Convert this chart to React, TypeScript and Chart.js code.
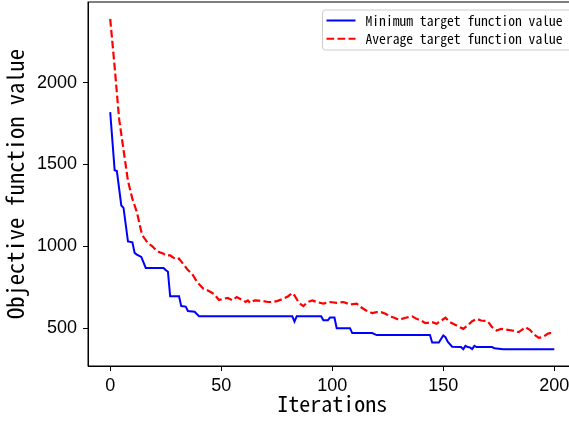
import { useEffect, useRef } from "react";
import { Chart, registerables } from "chart.js";

Chart.register(...registerables);

const minIter = [0, 2, 3, 5, 6, 8, 10, 11, 12, 14, 16, 24, 25, 26, 27, 31, 32, 34, 35, 38, 40, 82, 83, 84, 95, 96, 98, 99, 101, 102, 108, 109, 118, 120, 144, 145, 148, 150, 151, 152, 154, 158, 159, 160, 161, 162, 163, 164, 165, 172, 173, 177, 200];
const minValue = [1820, 1465, 1460, 1250, 1235, 1030, 1025, 960, 950, 935, 868, 868, 855, 845, 695, 695, 635, 632, 605, 600, 573, 573, 540, 573, 573, 548, 548, 565, 565, 500, 500, 470, 470, 458, 458, 413, 413, 455, 445, 418, 387, 385, 372, 392, 385, 383, 373, 392, 385, 385, 377, 371, 371];

const avgIter = [0, 2, 4, 6, 8, 10, 12, 14, 15, 17, 19, 20, 22, 24, 25, 27, 28, 30, 31, 33, 35, 37, 39, 41, 42, 44, 46, 47, 49, 51, 53, 55, 57, 59, 60, 61, 62, 63, 65, 67, 69, 71, 73, 75, 76, 78, 80, 82, 83, 85, 87, 89, 91, 93, 96, 99, 102, 105, 108, 111, 113, 115, 118, 120, 122, 124, 126, 128, 130, 133, 136, 138, 140, 142, 145, 147, 148, 151, 153, 156, 159, 161, 163, 165, 167, 170, 172, 174, 176, 179, 181, 184, 186, 187, 189, 191, 193, 195, 197, 198, 200];
const avgValue = [2390, 2097, 1780, 1590, 1400, 1290, 1210, 1090, 1057, 1020, 1000, 986, 965, 955, 945, 945, 935, 920, 925, 890, 855, 830, 785, 755, 741, 730, 715, 705, 672, 680, 685, 670, 690, 675, 670, 660, 670, 655, 670, 668, 665, 660, 660, 665, 670, 680, 694, 714, 700, 655, 635, 660, 670, 660, 650, 660, 655, 660, 645, 650, 628, 610, 592, 598, 598, 588, 572, 564, 551, 564, 572, 557, 547, 531, 537, 527, 537, 564, 537, 517, 496, 517, 543, 557, 547, 543, 506, 486, 496, 490, 486, 476, 496, 506, 490, 461, 441, 447, 466, 470, 470];

const seriesLabels = ["Minimum target function value", "Average target function value"];
const xTicks = [0, 50, 100, 150, 200];
const yTicks = [500, 1000, 1500, 2000];
const xTitle = "Iterations";
const yTitle = "Objective function value";

const MONO = "'Noto Sans Mono CJK SC', 'DejaVu Sans Mono', monospace";
const SANS = "'Liberation Sans', Arial, sans-serif";

const legendPlugin = {
  id: "boxLegend",
  afterDraw(chart: any) {
    const ctx = chart.ctx;
    const area = chart.chartArea;
    const x0 = area.right - 254;
    const y0 = area.top + 8;
    const w = 270;
    const h = 40;
    ctx.save();
    ctx.beginPath();
    const r = 3;
    ctx.moveTo(x0 + r, y0);
    ctx.lineTo(x0 + w - r, y0);
    ctx.arcTo(x0 + w, y0, x0 + w, y0 + r, r);
    ctx.lineTo(x0 + w, y0 + h - r);
    ctx.arcTo(x0 + w, y0 + h, x0 + w - r, y0 + h, r);
    ctx.lineTo(x0 + r, y0 + h);
    ctx.arcTo(x0, y0 + h, x0, y0 + h - r, r);
    ctx.lineTo(x0, y0 + r);
    ctx.arcTo(x0, y0, x0 + r, y0, r);
    ctx.closePath();
    ctx.fillStyle = "rgba(255,255,255,0.85)";
    ctx.fill();
    ctx.strokeStyle = "#cccccc";
    ctx.lineWidth = 1;
    ctx.stroke();
    chart.data.datasets.forEach((ds: any, i: number) => {
      const y = y0 + 10.5 + i * 18.3;
      ctx.beginPath();
      ctx.strokeStyle = ds.borderColor;
      ctx.lineWidth = 2;
      ctx.setLineDash(ds.borderDash || []);
      ctx.moveTo(x0 + 4, y);
      ctx.lineTo(x0 + 33, y);
      ctx.stroke();
      ctx.setLineDash([]);
      ctx.fillStyle = "#000";
      ctx.font = `13.6px ${MONO}`;
      ctx.textBaseline = "middle";
      ctx.textAlign = "left";
      ctx.fillText(ds.label, x0 + 43, y + 0.5);
    });
    ctx.restore();
  },
};

const framePlugin = {
  id: "frame",
  afterDatasetsDraw(chart: any) {
    const ctx = chart.ctx;
    const a = chart.chartArea;
    ctx.save();
    ctx.strokeStyle = "#000";
    ctx.lineWidth = 1;
    ctx.strokeRect(a.left, a.top, a.right - a.left, a.bottom - a.top);
    ctx.restore();
  },
};

export default function App() {
  const ref = useRef<HTMLCanvasElement | null>(null);

  useEffect(() => {
    if (!ref.current) return;
    const chart = new Chart(ref.current, {
      type: "line",
      data: {
        datasets: [
          {
            label: seriesLabels[0],
            data: minIter.map((x, i) => ({ x, y: minValue[i] })),
            borderColor: "#0000ff",
            borderWidth: 2,
            pointRadius: 0,
            tension: 0,
            fill: false,
          },
          {
            label: seriesLabels[1],
            data: avgIter.map((x, i) => ({ x, y: avgValue[i] })),
            borderColor: "#ff0000",
            borderWidth: 2.2,
            borderDash: [7.7, 3.3],
            pointRadius: 0,
            tension: 0,
            fill: false,
          },
        ],
      },
      options: {
        responsive: false,
        animation: false,
        devicePixelRatio: 1,
        layout: { padding: { top: 2, right: 1.5, left: 0, bottom: 0 } },
        plugins: { legend: { display: false }, tooltip: { enabled: false } },
        scales: {
          x: {
            type: "linear",
            min: -10,
            max: 210,
            afterBuildTicks: (s: any) => {
              s.ticks = xTicks.map((v) => ({ value: v }));
            },
            afterFit: (s: any) => {
              s.height = 55;
              s.paddingLeft = 0;
              s.paddingRight = 0;
            },
            ticks: {
              color: "#000",
              font: { family: SANS, size: 18 },
              padding: 4,
              callback: (v: any) => String(v),
            },
            grid: { drawOnChartArea: false, drawTicks: true, tickLength: 5, color: "#000" },
            border: { display: true, color: "#000", width: 1 },
            title: {
              display: true,
              text: xTitle,
              color: "#000",
              font: { family: MONO, size: 22 },
              padding: { top: 0, bottom: 4 },
            },
          },
          y: {
            type: "linear",
            min: 269,
            max: 2493,
            afterBuildTicks: (s: any) => {
              s.ticks = yTicks.map((v) => ({ value: v }));
            },
            afterFit: (s: any) => {
              s.width = 88;
              s.paddingTop = 0;
              s.paddingBottom = 0;
            },
            ticks: {
              color: "#000",
              font: { family: SANS, size: 18 },
              padding: 6,
              callback: (v: any) => String(v),
            },
            grid: { drawOnChartArea: false, drawTicks: true, tickLength: 5, color: "#000" },
            border: { display: true, color: "#000", width: 1 },
            title: {
              display: true,
              text: yTitle,
              color: "#000",
              font: { family: MONO, size: 22.5 },
              padding: { top: 2, bottom: 0 },
            },
          },
        },
      },
      plugins: [framePlugin, legendPlugin],
    });
    return () => chart.destroy();
  }, []);

  return (
    <div
      style={{
        position: "fixed",
        left: 0,
        top: 0,
        width: 569,
        height: 421,
        overflow: "hidden",
        background: "#fff",
      }}
    >
      <canvas ref={ref} width={578} height={421} style={{ display: "block" }} />
    </div>
  );
}
